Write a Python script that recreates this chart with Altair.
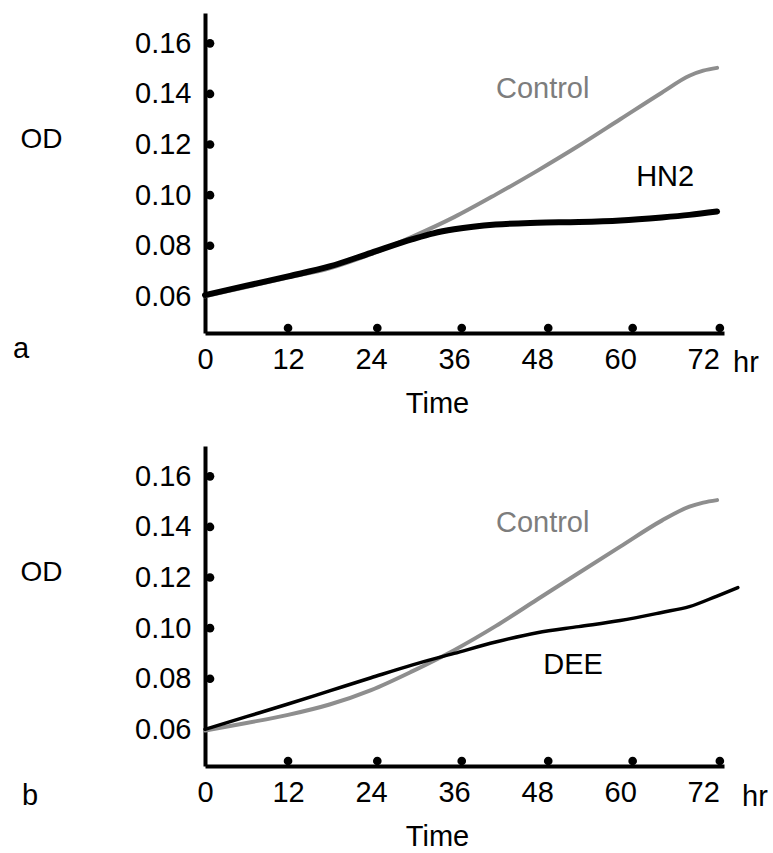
import altair as alt
import pandas as pd

FONT = "Liberation Sans"
GRAY_LINE = "#8e8e8e"
GRAY_TEXT = "#7d7d7d"

# ---------------- data ----------------
hours = [0, 6, 12, 18, 24, 30, 36, 42, 48, 54, 60, 66, 70, 72, 74]

control_a = [0.0600, 0.0637, 0.0674, 0.0711, 0.0767, 0.0836, 0.0913, 0.1002,
             0.1096, 0.1195, 0.1300, 0.1405, 0.1472, 0.1492, 0.1503]
hn2_hours = [0, 6, 12, 18, 24, 30, 33, 36, 42, 48, 54, 60, 66, 70, 74]
hn2_a = [0.0605, 0.0642, 0.0679, 0.0718, 0.0772, 0.0826, 0.0849, 0.0865,
         0.0884, 0.0891, 0.0894, 0.0900, 0.0912, 0.0922, 0.0935]

control_b = [0.0595, 0.0625, 0.0657, 0.0698, 0.0755, 0.0830, 0.0913, 0.1008,
             0.1113, 0.1218, 0.1322, 0.1425, 0.1480, 0.1496, 0.1506]
dee_hours = [0, 6, 12, 18, 24, 30, 36, 42, 48, 54, 60, 66, 70, 74, 77]
dee_b = [0.0600, 0.0650, 0.0700, 0.0752, 0.0804, 0.0855, 0.0900, 0.0945,
         0.0982, 0.1006, 0.1030, 0.1062, 0.1085, 0.1127, 0.1160]

y_ticks = [0.06, 0.08, 0.10, 0.12, 0.14, 0.16]
x_ticks = [0, 12, 24, 36, 48, 60, 72]
y_dots = [0.08, 0.10, 0.12, 0.14, 0.16]
x_dots = [12.0, 24.9, 37.1, 49.6, 61.8, 74.4]

X_DOMAIN = [0, 75]
Y_DOMAIN = [0.0455, 0.172]
W, H = 519, 320
FS = 29


def panel(ctrl_vals, trt_hours, trt_vals, trt_name, trt_width,
          ctrl_lab, trt_lab, letter, letter_xy, hr_xy):
    xs = alt.Scale(domain=X_DOMAIN, nice=False, zero=False)
    ys = alt.Scale(domain=Y_DOMAIN, nice=False, zero=False)
    xaxis = alt.Axis(values=x_ticks, ticks=False, grid=False, domainColor="black",
                     domainWidth=4, labelFont=FONT, labelFontSize=FS, labelColor="black",
                     labelPadding=12, labelFlush=False, labelOverlap=False,
                     title="Time", titleFont=FONT, titleFontSize=FS, titleFontWeight="normal",
                     titleColor="black", titleX=232, titleY=79, titleBaseline="alphabetic",
                     titleAnchor="start", titleAlign="center")
    yaxis = alt.Axis(values=y_ticks, format=".2f", ticks=False, grid=False,
                     domainColor="black", domainWidth=4, labelFont=FONT, labelFontSize=FS,
                     labelColor="black", labelPadding=14, labelOverlap=False,
                     title="OD", titleFont=FONT, titleFontSize=28, titleFontWeight="normal",
                     titleColor="black", titleAngle=0, titleX=-185, titleY=134,
                     titleAlign="left", titleBaseline="alphabetic")
    X = lambda: alt.X("hour:Q", scale=xs, axis=xaxis)
    Y = lambda: alt.Y("od:Q", scale=ys, axis=yaxis)

    ctrl_df = pd.DataFrame({"hour": hours, "od": ctrl_vals})
    trt_df = pd.DataFrame({"hour": trt_hours, "od": trt_vals})

    ctrl = alt.Chart(ctrl_df).mark_line(color=GRAY_LINE, strokeWidth=4, interpolate="monotone",
                                        strokeCap="round").encode(x=X(), y=Y())
    trt = alt.Chart(trt_df).mark_line(color="black", strokeWidth=trt_width, interpolate="monotone",
                                      strokeCap="round").encode(x=X(), y=Y())

    ydot = alt.Chart(pd.DataFrame({"od": y_dots})).mark_circle(
        color="black", opacity=1, size=75).encode(x=alt.value(5), y=Y())
    xdot = alt.Chart(pd.DataFrame({"hour": x_dots})).mark_circle(
        color="black", opacity=1, size=75).encode(x=X(), y=alt.value(H - 5))

    lab_df = pd.DataFrame({
        "hour": [ctrl_lab[0], trt_lab[0]],
        "od": [ctrl_lab[1], trt_lab[1]],
        "text": ["Control", trt_name],
        "col": [GRAY_TEXT, "black"],
    })
    labels = alt.Chart(lab_df).mark_text(font=FONT, fontSize=FS, baseline="middle",
                                         align="center").encode(
        x=X(), y=Y(), text="text:N", color=alt.Color("col:N", scale=None))

    letter_t = alt.Chart(pd.DataFrame({"t": [letter]})).mark_text(
        font=FONT, fontSize=FS, align="left", baseline="alphabetic", color="black").encode(
        x=alt.value(letter_xy[0]), y=alt.value(letter_xy[1]), text="t:N")
    hr_t = alt.Chart(pd.DataFrame({"t": ["hr"]})).mark_text(
        font=FONT, fontSize=FS, align="left", baseline="alphabetic", color="black").encode(
        x=alt.value(hr_xy[0]), y=alt.value(hr_xy[1]), text="t:N")

    return alt.layer(ctrl, trt, ydot, xdot, labels, letter_t, hr_t).properties(width=W, height=H)


pa = panel(control_a, hn2_hours, hn2_a, "HN2", 6,
           (48.8, 0.1418), (66.5, 0.1072), "a", (-192, 345), (528, 359))
pb = panel(control_b, dee_hours, dee_b, "DEE", 3.5,
           (48.8, 0.1415), (53.2, 0.0856), "b", (-183, 359), (537, 360))

chart = alt.vconcat(pa, pb, spacing=28).properties(
    padding={"left": 13, "top": 13, "right": 0, "bottom": 0}
).configure_view(stroke=None)

chart.save("out.html", embed_options={"renderer": "svg", "actions": False})
